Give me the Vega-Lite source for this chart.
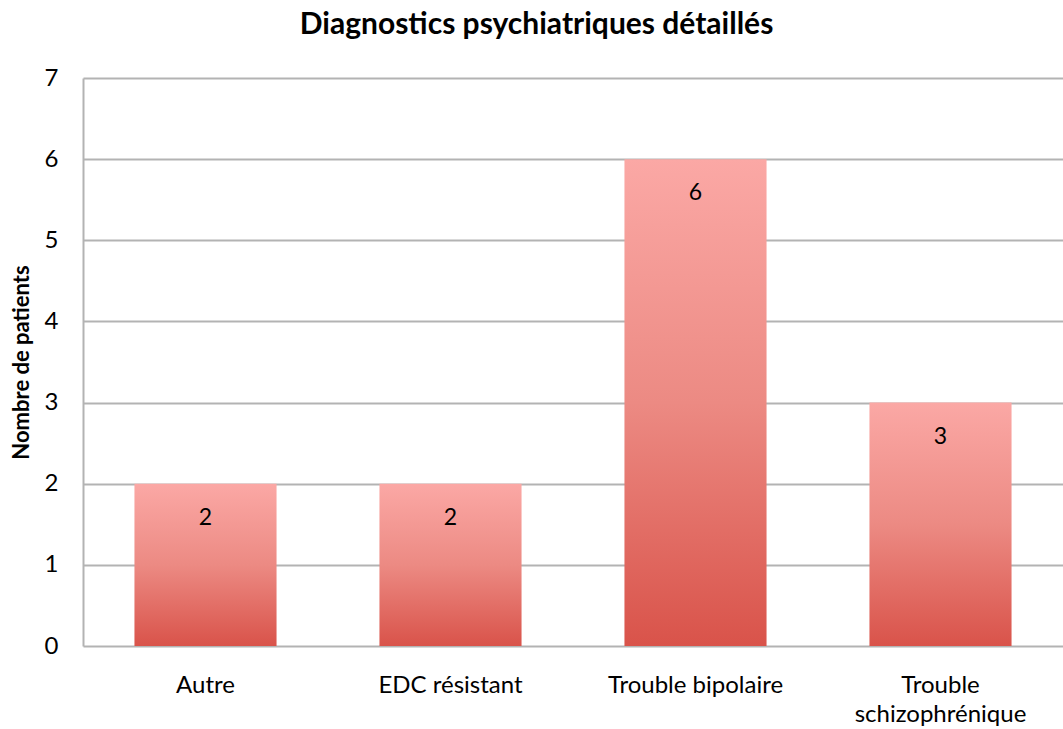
{
  "$schema": "https://vega.github.io/schema/vega-lite/v6.json",
  "width": 980,
  "height": 568,
  "autosize": {"type": "none"},
  "padding": {"left": 83, "top": 78, "right": 0, "bottom": 83},
  "background": "white",
  "title": {
    "text": "Diagnostics psychiatriques détaillés",
    "font": "Lato",
    "fontSize": 30,
    "fontWeight": "bold",
    "color": "#000000",
    "anchor": "middle",
    "frame": "bounds",
    "offset": 26
  },
  "config": {
    "view": {"stroke": null},
    "font": "Lato"
  },
  "data": {
    "values": [
      {"diagnostic": "Autre", "patients": 2},
      {"diagnostic": "EDC résistant", "patients": 2},
      {"diagnostic": "Trouble bipolaire", "patients": 6},
      {"diagnostic": "Trouble schizophrénique", "patients": 3}
    ]
  },
  "encoding": {
    "x": {
      "field": "diagnostic",
      "type": "nominal",
      "sort": null,
      "scale": {"paddingInner": 0.42, "paddingOuter": 0.21},
      "axis": {
        "title": null,
        "labelAngle": 0,
        "labelFont": "Lato",
        "labelFontSize": 24,
        "labelColor": "#000000",
        "labelPadding": 39,
        "labelBaseline": "middle",
        "ticks": false,
        "domain": false,
        "labelLineHeight": 29,
        "labelExpr": "datum.label == 'Trouble schizophrénique' ? ['Trouble', 'schizophrénique'] : datum.label"
      }
    },
    "y": {
      "field": "patients",
      "type": "quantitative",
      "scale": {"domain": [0, 7], "nice": false},
      "axis": {
        "title": "Nombre de patients",
        "titleFont": "Lato",
        "titleFontSize": 22,
        "titleFontWeight": "bold",
        "titleColor": "#000000",
        "titlePadding": 11,
        "values": [0, 1, 2, 3, 4, 5, 6, 7],
        "labelOverlap": false,
        "labelFont": "Lato",
        "labelFontSize": 24,
        "labelColor": "#000000",
        "labelPadding": 25,
        "ticks": false,
        "domain": true,
        "domainColor": "#b3b3b3",
        "domainWidth": 2,
        "grid": true,
        "gridColor": "#b3b3b3",
        "gridWidth": 2
      }
    }
  },
  "layer": [
    {
      "mark": {
        "type": "bar",
        "color": {
          "gradient": "linear",
          "x1": 0, "y1": 0, "x2": 0, "y2": 1,
          "stops": [
            {"offset": 0, "color": "#fba8a5"},
            {"offset": 0.5, "color": "#ec8a83"},
            {"offset": 1, "color": "#d9534a"}
          ]
        }
      }
    },
    {
      "mark": {
        "type": "text",
        "baseline": "middle",
        "dy": 34,
        "font": "Lato",
        "fontSize": 23,
        "color": "#000000"
      },
      "encoding": {
        "text": {"field": "patients", "type": "quantitative"}
      }
    }
  ]
}
